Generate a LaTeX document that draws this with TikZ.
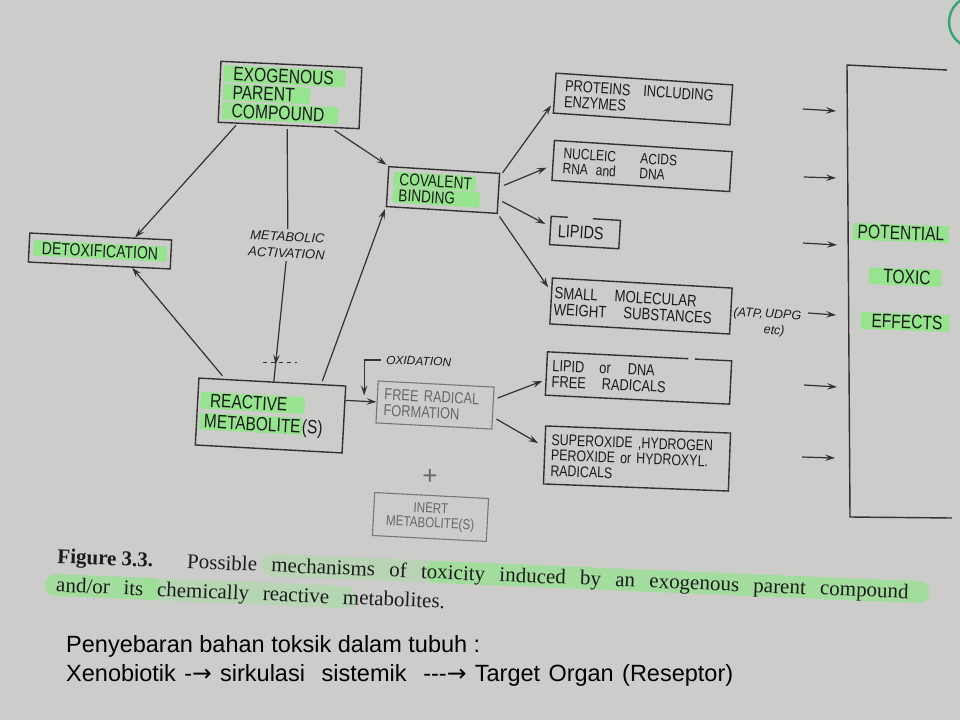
\documentclass[tikz,border=0pt]{standalone}
\usepackage{fontspec}
\setmainfont{Liberation Serif}
\newfontfamily\lett[FakeStretch=0.8]{Liberation Sans}
\newfontfamily\letw{Liberation Sans}
\newfontfamily\dejavu{DejaVu Sans}
\usetikzlibrary{arrows.meta,calc,decorations.markings}
\definecolor{bgc}{RGB}{204,204,202}
\definecolor{ink}{RGB}{52,48,52}
\definecolor{txt}{RGB}{28,28,30}
\definecolor{fade}{RGB}{105,103,106}
\definecolor{hlg}{RGB}{150,228,142}
\definecolor{stampg}{RGB}{50,165,115}
\setlength{\fboxsep}{1.5pt}
\newcommand\hl[1]{\colorbox{hlg}{#1}}
\newcommand\fsz[2]{\fontsize{#1}{#2}\selectfont}
\begin{document}
\begin{tikzpicture}[x=1pt,y=-1pt,
  bx/.style={draw=ink, line width=1.4pt, inner sep=0pt, text=txt, align=left},
  nobx/.style={bx, draw=none},
  fbx/.style={bx, draw=fade!85!bgc, line width=1.1pt, text=fade},
  ln/.style={draw=ink, line width=1.2pt},
  con/.style={ln, -{Stealth[length=10pt,width=6.5pt,inset=4pt]}},
  lbl/.style={inner sep=0pt, text=txt},
  band/.style={line width=22pt, draw=hlg, line cap=round},
]
\useasboundingbox (0,0) rectangle (960,720);
\fill[bgc] (0,0) rectangle (960,720);
\draw[stampg, line width=2.4pt] (975,22) circle[radius=26pt];

% ---------- boxes ----------
\node[bx, rotate=-2.6, minimum width=141pt, minimum height=61pt, text width=134pt, inner xsep=3.5pt,
  font=\lett\fsz{19.5}{18.5}] (exo) at (290,95)
  {\hl{\hspace{8pt}EXOGENOUS\hspace{10pt}}\\\hl{\hspace{8pt}PARENT\hspace{14pt}}\\\hl{\hspace{8pt}COMPOUND\hspace{12pt}}};
\node[bx, rotate=-3.5, minimum width=111pt, minimum height=40pt, text width=100pt, inner xsep=5.5pt,
  font=\lett\fsz{17}{16}] (cov) at (443,190)
  {\hl{\hspace{4.5pt}COVALENT\hspace{2.5pt}}\\\hl{\hspace{4.5pt}BINDING\hspace{23pt}}};
\node[bx, align=center, rotate=-2.8, minimum width=142pt, minimum height=29pt,
  font=\lett\fsz{17.5}{18}] (detox) at (100,251)
  {\hl{\hspace{7pt}DETOXIFICATION\hspace{7pt}}};
\node[bx, rotate=-3.1, minimum width=147pt, minimum height=67pt, text width=141pt, inner xsep=3pt,
  font=\lett\fsz{19.3}{21}] (react) at (270.5,415.5)
  {\hl{\hspace{8pt}REACTIVE\hspace{16pt}}\\\hl{\hspace{3pt}METABOLITE}(S)};
\node[fbx, rotate=-3, minimum width=116pt, minimum height=42pt, text width=102pt, inner xsep=7pt,
  font=\lett\fsz{16}{16}] (frf) at (435,405)
  {FREE RADICAL\\FORMATION};
\node[fbx, align=center, rotate=-3, minimum width=114pt, minimum height=43pt,
  font=\lett\fsz{14.5}{14.5}] (inert) at (430.5,517)
  {INERT\\METABOLITE(S)};
\node[lbl, text=fade, font=\letw\fsz{26}{26}] (plus) at (430,477) {+};

\node[bx, rotate=-3.8, minimum width=177pt, minimum height=40pt, text width=157pt, inner xsep=10pt,
  font=\lett\fsz{16}{16}] (prot) at (643,99)
  {PROTEINS\hspace{13pt}INCLUDING\\ENZYMES};
\node[bx, rotate=-3.6, minimum width=178pt, minimum height=40pt, text width=158pt, inner xsep=10pt,
  font=\lett\fsz{15}{15}] (nuc) at (642,166)
  {\makebox[77pt][l]{NUCLEIC}ACIDS\\\makebox[77pt][l]{RNA\hspace{8pt}and}DNA};
\node[nobx, rotate=-3.4, minimum width=68pt, minimum height=27pt, text width=54pt, inner xsep=7pt,
  font=\lett\fsz{18}{18}] (lip) at (585,232.5) {LIPIDS};
\draw[ln, line width=1.4pt] ($(lip.north west)!0.24!(lip.north east)$) -- (lip.north west) -- (lip.south west)
  -- (lip.south east) -- (lip.north east) -- ($(lip.north west)!0.6!(lip.north east)$);
\node[bx, rotate=-3.2, minimum width=180pt, minimum height=46pt, text width=174pt, inner xsep=3pt,
  font=\lett\fsz{16.5}{16.5}] (small) at (641,306)
  {SMALL\hspace{17pt}MOLECULAR\\WEIGHT\hspace{17pt}SUBSTANCES};
\node[nobx, rotate=-2.8, minimum width=183pt, minimum height=42pt, text width=173pt, inner xsep=5pt,
  font=\lett\fsz{16}{16}] (lipdna) at (638.5,378)
  {LIPID\hspace{15pt}or\hspace{17pt}DNA\\FREE\hspace{16pt}RADICALS};
\draw[ln, line width=1.4pt] ($(lipdna.north west)!0.765!(lipdna.north east)$) -- (lipdna.north west) -- (lipdna.south west)
  -- (lipdna.south east) -- (lipdna.north east) -- ($(lipdna.north west)!0.80!(lipdna.north east)$);
\node[bx, rotate=-2.2, minimum width=185pt, minimum height=58pt, text width=172pt, inner xsep=6.5pt,
  font=\lett\fsz{15.5}{15.5}] (supox) at (637,458.5)
  {SUPEROXIDE ,HYDROGEN\\PEROXIDE or HYDROXYL.\\RADICALS};

% ---------- labels ----------
\node[lbl, align=center, rotate=-3, inner ysep=3pt, font=\letw\itshape\fsz{13}{16.5}] (metlab) at (287,245)
  {METABOLIC\\ACTIVATION};
\node[lbl, anchor=west, rotate=-2, font=\letw\itshape\fsz{12}{14}] (oxlab) at (386,360) {OXIDATION};
\node[lbl, anchor=west, align=left, rotate=-3, font=\letw\itshape\fsz{12.5}{16}] (atp) at (733,321)
  {(ATP,\,UDPG\\\hspace{31pt}etc)};

% ---------- bracket ----------
\coordinate (brtr) at (947,70);
\coordinate (brtl) at (847,65);
\coordinate (brbl) at (850,517);
\coordinate (brbr) at (952,518);
\draw[ln, line width=1.4pt] (brtr) -- (brtl) -- (brbl) -- (brbr);
\node[lbl, rotate=-2, font=\lett\fsz{19.5}{20}] (pot) at (901,233) {\hl{\hspace{3pt}POTENTIAL\hspace{3pt}}};
\node[lbl, rotate=-2, font=\lett\fsz{19.5}{20}] (tox) at (905,277) {\hl{\hspace{13pt}TOXIC\hspace{9pt}}};
\node[lbl, rotate=-2, font=\lett\fsz{19.5}{20}] (eff) at (905,322) {\hl{\hspace{9pt}EFFECTS\hspace{5pt}}};

\foreach \n/\xa/\ya/\xb/\yb in {1/803/109/836/111, 2/804/177/836/178, 3/803/243/837/245,
   4/808/313/836/315, 5/804/385/837/387, 6/802/457/835/458}{
  \coordinate (ts\n) at (\xa,\ya);
  \coordinate (te\n) at (\xb,\yb);
  \draw[con] (ts\n) -- (te\n);
}

% ---------- connectors ----------
\draw[con, shorten <=2pt] ($(exo.south west)!0.14!(exo.south east)$) -- ($(detox.north west)!0.74!(detox.north east)$);
\draw[con, shorten <=4pt, shorten >=2pt] ($(exo.south west)!0.80!(exo.south east)$) -- (cov.north west);
\coordinate (etop) at ($(exo.south west)!0.49!(exo.south east)$);
\coordinate (rtop) at ($(react.north west)!0.51!(react.north east)$);
\draw[ln, shorten <=3pt] (etop) -- (metlab.north);
\draw[ln, postaction={decorate}, decoration={markings,
  mark=at position 0.86 with {\arrow{Stealth[length=10pt,width=6.5pt,inset=4pt]}}}]
  (metlab.south) -- (rtop);
\coordinate (mk) at ($(metlab.south)!0.84!(rtop)$);
\draw[ink, line width=0.8pt, dash pattern=on 4pt off 4pt] ($(mk)+(-13,0)$) -- ($(mk)+(21,0)$);
\draw[con, shorten <=4pt] ($(react.north west)!0.18!(react.north east)$) -- ($(detox.south west)!0.73!(detox.south east)$);
\draw[con, shorten <=3pt, shorten >=2pt] ($(react.north west)!0.83!(react.north east)$) -- (cov.south west);
\coordinate (rfs) at ($(react.north east)!0.22!(react.south east)$);
\draw[con] (rfs) -- (frf.west);
\coordinate (oxt) at ($(rfs)!0.6!(frf.west)$);
\draw[con, shorten <=5pt, shorten >=6pt] (oxlab.west) -| (oxt);
\draw[con, shorten <=4pt, shorten >=4pt] ($(frf.north east)!0.3!(frf.south east)$) -- ($(lipdna.north west)!0.64!(lipdna.south west)$);
\draw[con, shorten <=4pt, shorten >=7pt] ($(frf.north east)!0.71!(frf.south east)$) -- ($(supox.north west)!0.36!(supox.south west)$);
\draw[con, shorten <=4pt, shorten >=4pt] ($(cov.north east)!0.08!(cov.south east)$) -- ($(prot.north west)!0.72!(prot.south west)$);
\draw[con, shorten <=5pt, shorten >=6pt] ($(cov.north east)!0.35!(cov.south east)$) -- ($(nuc.north west)!0.62!(nuc.south west)$);
\draw[con, shorten <=4pt, shorten >=6pt] ($(cov.north east)!0.65!(cov.south east)$) -- ($(lip.north west)!0.37!(lip.south west)$);
\draw[con, shorten <=3pt, shorten >=5pt] (cov.south east) -- ($(small.north west)!0.3!(small.south west)$);

% ---------- caption ----------
\begin{scope}[shift={(57,563)}, rotate=-2.4, transform shape]
  \draw[band, opacity=0.35] (215,-7) -- (380,-7);
  \draw[band, opacity=0.75] (380,-7) -- (862,-7);
  \draw[band, opacity=0.75] (0,22) -- (95,22);
  \draw[band, opacity=0.4] (95,22) -- (290,22);
  \node[lbl, anchor=base west, font=\fsz{21}{25}] (cap1) at (0,0)
    {\makebox[852pt][s]{\mbox{\textbf{Figure 3.3.}}\hspace{34pt}Possible mechanisms of toxicity induced by an exogenous parent compound}};
  \node[lbl, anchor=base west, font=\fsz{21}{25}] (cap2) at (0,29)
    {\makebox[389pt][s]{and/or its chemically reactive metabolites.}};
\end{scope}

% ---------- slide text ----------
\node[inner sep=0pt, anchor=base west, text=black, font=\letw\fsz{23.5}{28}] (ind1) at (66,652)
  {Penyebaran bahan toksik dalam tubuh :};
\node[inner sep=0pt, anchor=base west, text=black, font=\letw\fsz{23.5}{28}] (ind2) at (66,681)
  {\makebox[667pt][s]{Xenobiotik -{\dejavu →} sirkulasi\ \ sistemik\ \ ---{\dejavu →} Target Organ (Reseptor)}};
\end{tikzpicture}
\end{document}
